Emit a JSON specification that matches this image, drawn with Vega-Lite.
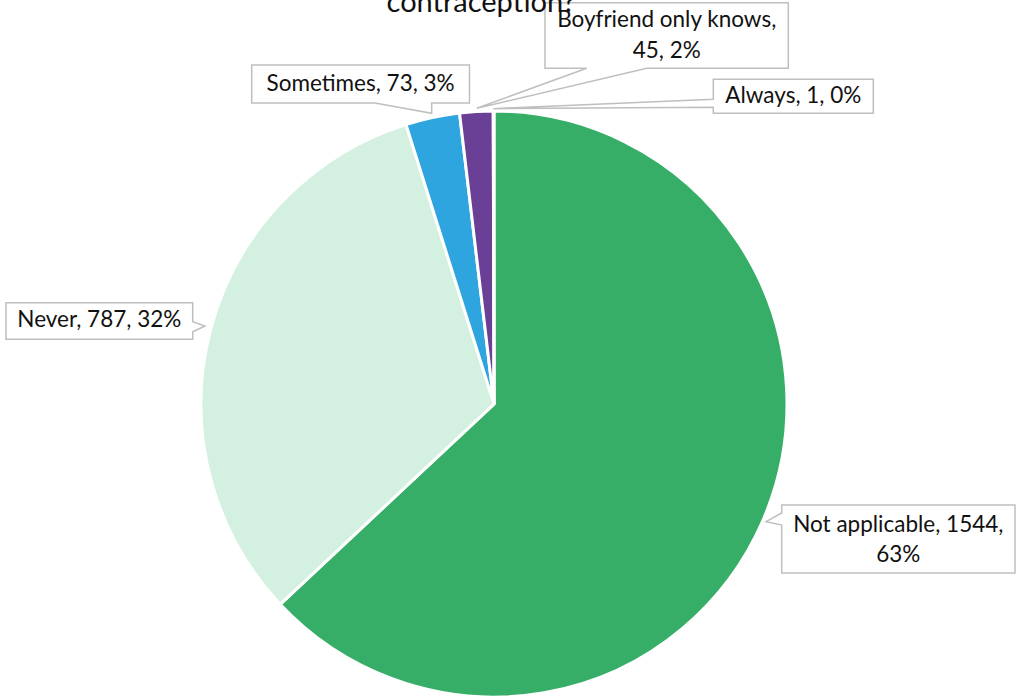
{
  "$schema": "https://vega.github.io/schema/vega-lite/v6.json",
  "autosize": "none",
  "width": 988,
  "height": 590,
  "padding": {"left": 0, "top": 109, "right": 30, "bottom": 0},
  "background": "white",
  "config": {"view": {"stroke": null}, "font": "Lato"},
  "title": {
    "text": "contraception?",
    "font": "Lato",
    "fontSize": 29,
    "fontWeight": "normal",
    "color": "#111111",
    "anchor": "middle",
    "frame": "group",
    "baseline": "alphabetic",
    "offset": 0,
    "dy": 41,
    "dx": -13
  },
  "data": {
    "values": [
      {"idx": 1, "category": "Not applicable", "count": 1544},
      {"idx": 2, "category": "Never", "count": 787},
      {"idx": 3, "category": "Sometimes", "count": 73},
      {"idx": 4, "category": "Boyfriend only knows", "count": 45},
      {"idx": 5, "category": "Always", "count": 1}
    ]
  },
  "transform": [
    {"joinaggregate": [{"op": "sum", "field": "count", "as": "total"}]},
    {"calculate": "format(datum.count / datum.total, '.0%')", "as": "pct"}
  ],
  "layer": [
    {
      "mark": {"type": "arc", "outerRadius": 293, "stroke": "white", "strokeWidth": 3},
      "encoding": {
        "theta": {"field": "count", "type": "quantitative", "stack": true},
        "order": {"field": "idx", "type": "quantitative"},
        "color": {
          "field": "category",
          "type": "nominal",
          "scale": {
            "domain": ["Not applicable", "Never", "Sometimes", "Boyfriend only knows", "Always"],
            "range": ["#36AE68", "#D4F0E1", "#2EA5DF", "#6A3F96", "#1F5F8B"]
          },
          "legend": null
        }
      }
    },
    {
      "mark": {"type": "point", "filled": true, "fill": "white", "stroke": "#BFBFBF", "strokeWidth": 1.5, "opacity": 1, "size": 4},
      "encoding": {
        "shape": {
          "field": "category",
          "type": "nominal",
          "scale": {
            "domain": ["Not applicable", "Never", "Sometimes", "Boyfriend only knows", "Always"],
            "range": [
              "M287.7,101H521V169H287.7V121L272,117.7L287.7,109Z",
              "M-488,-101.3H-301.3V-82.3L-289,-78L-301.3,-72.3V-64.7H-488Z",
              "M-242.3,-339H-24.5V-301H-62.3V-290.7L-119,-301H-242.3Z",
              "M51,-401.3H294.3V-335.7H152.7L-17.3,-295.7L92.7,-335.7H51Z",
              "M219.3,-324.7H379.3V-290.7H219.3V-296.7L-0.7,-295.3L219.3,-304.7Z"
            ]
          },
          "legend": null
        }
      }
    },
    {
      "transform": [
        {"filter": "datum.category === 'Not applicable'"},
        {"calculate": "datum.category + ', ' + datum.count + ',\\n' + datum.pct", "as": "label"}
      ],
      "mark": {"type": "text", "font": "Lato", "fontSize": 22.5, "color": "#111111", "align": "center", "baseline": "alphabetic", "lineBreak": "\n", "lineHeight": 30, "dx": 404.3, "dy": 127.7},
      "encoding": {"text": {"field": "label", "type": "nominal"}}
    },
    {
      "transform": [
        {"filter": "datum.category === 'Never'"},
        {"calculate": "datum.category + ', ' + datum.count + ', ' + datum.pct", "as": "label"}
      ],
      "mark": {"type": "text", "font": "Lato", "fontSize": 22.5, "color": "#111111", "align": "center", "baseline": "alphabetic", "dx": -394.7, "dy": -76.7},
      "encoding": {"text": {"field": "label", "type": "nominal"}}
    },
    {
      "transform": [
        {"filter": "datum.category === 'Sometimes'"},
        {"calculate": "datum.category + ', ' + datum.count + ', ' + datum.pct", "as": "label"}
      ],
      "mark": {"type": "text", "font": "Lato", "fontSize": 22.5, "color": "#111111", "align": "center", "baseline": "alphabetic", "dx": -133.4, "dy": -313.3},
      "encoding": {"text": {"field": "label", "type": "nominal"}}
    },
    {
      "transform": [
        {"filter": "datum.category === 'Boyfriend only knows'"},
        {"calculate": "datum.category + ',\\n' + datum.count + ', ' + datum.pct", "as": "label"}
      ],
      "mark": {"type": "text", "font": "Lato", "fontSize": 22.5, "color": "#111111", "align": "center", "baseline": "alphabetic", "lineBreak": "\n", "lineHeight": 31, "dx": 172.7, "dy": -376.7},
      "encoding": {"text": {"field": "label", "type": "nominal"}}
    },
    {
      "transform": [
        {"filter": "datum.category === 'Always'"},
        {"calculate": "datum.category + ', ' + datum.count + ', ' + datum.pct", "as": "label"}
      ],
      "mark": {"type": "text", "font": "Lato", "fontSize": 22.5, "color": "#111111", "align": "center", "baseline": "alphabetic", "dx": 299.3, "dy": -300.7},
      "encoding": {"text": {"field": "label", "type": "nominal"}}
    }
  ]
}
